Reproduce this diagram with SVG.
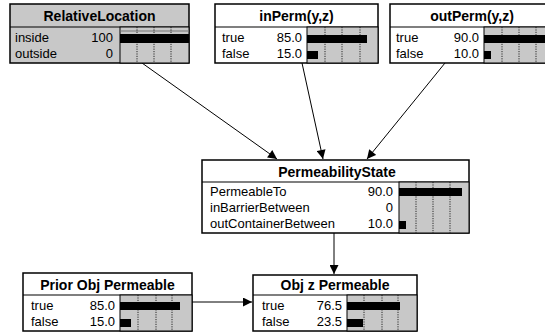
<svg xmlns="http://www.w3.org/2000/svg" width="545" height="333" viewBox="0 0 545 333">
<defs>
<marker id="ah" viewBox="0 0 10 10" refX="10" refY="5" markerWidth="11" markerHeight="9" markerUnits="userSpaceOnUse" orient="auto">
<path d="M0,0 L10,5 L0,10 z" fill="#000"/>
</marker>
</defs>
<style>
.box{fill:#fff;stroke:#000;stroke-width:1.5}
.ev{fill:#c8c8c8;stroke:#000;stroke-width:1.5}
.sep{stroke:#000;stroke-width:1.2}
.area{fill:#c8c8c8;stroke:#000;stroke-width:1}
.grid{stroke:#000;stroke-width:0.8;stroke-dasharray:1.2,1.2}
.bar{fill:#000}
.t{font-family:"Liberation Sans",Arial,sans-serif;font-size:14px;font-weight:bold;text-anchor:middle}
.r{font-family:"Liberation Sans",Arial,sans-serif;font-size:13px}
.v{font-family:"Liberation Sans",Arial,sans-serif;font-size:13px;text-anchor:end}
.edge{stroke:#000;stroke-width:1;fill:none}
</style>

<g id="connectors">
<line class="edge" x1="142" y1="63" x2="277" y2="159" marker-end="url(#ah)"/>
<line class="edge" x1="302" y1="63" x2="323" y2="159" marker-end="url(#ah)"/>
<line class="edge" x1="445" y1="63" x2="367" y2="159" marker-end="url(#ah)"/>
<line class="edge" x1="334" y1="233" x2="334" y2="274" marker-end="url(#ah)"/>
<line class="edge" x1="192" y1="302" x2="252" y2="302" marker-end="url(#ah)"/>
</g>

<g id="RelativeLocation">
<rect class="ev" x="10" y="4" width="179" height="59"/>
<line class="sep" x1="10" y1="27" x2="189" y2="27"/>
<rect class="area" x="120" y="27" width="69" height="36"/>
<line x1="120" y1="31" x2="189" y2="31" stroke="#777" stroke-width="1"/>
<line class="grid" x1="137" y1="27" x2="137" y2="63"/>
<line class="grid" x1="154" y1="27" x2="154" y2="63"/>
<line class="grid" x1="171" y1="27" x2="171" y2="63"/>
<rect class="bar" x="120" y="34" width="69" height="9"/>
<text class="t" x="99.5" y="21">RelativeLocation</text>
<text class="r" x="15" y="42">inside</text>
<text class="v" x="113" y="42">100</text>
<text class="r" x="15" y="58">outside</text>
<text class="v" x="113" y="58">0</text>
</g>

<g id="inPerm">
<rect class="box" x="215" y="4" width="163" height="59"/>
<line class="sep" x1="215" y1="27" x2="378" y2="27"/>
<rect class="area" x="307" y="27" width="71" height="36"/>
<line class="grid" x1="325" y1="27" x2="325" y2="63"/>
<line class="grid" x1="342" y1="27" x2="342" y2="63"/>
<line class="grid" x1="360" y1="27" x2="360" y2="63"/>
<rect class="bar" x="307" y="35" width="60" height="8"/>
<rect class="bar" x="307" y="51" width="11" height="8"/>
<text class="t" x="296.5" y="21">inPerm(y,z)</text>
<text class="r" x="222" y="42">true</text>
<text class="v" x="302" y="42">85.0</text>
<text class="r" x="222" y="58">false</text>
<text class="v" x="302" y="58">15.0</text>
</g>

<g id="outPerm">
<rect class="box" x="390" y="4" width="163" height="59"/>
<line class="sep" x1="390" y1="27" x2="553" y2="27"/>
<rect class="area" x="484" y="27" width="69" height="36"/>
<line class="grid" x1="502" y1="27" x2="502" y2="63"/>
<line class="grid" x1="519" y1="27" x2="519" y2="63"/>
<line class="grid" x1="536" y1="27" x2="536" y2="63"/>
<rect class="bar" x="484" y="35" width="62" height="8"/>
<rect class="bar" x="484" y="51" width="7" height="8"/>
<text class="t" x="472" y="21">outPerm(y,z)</text>
<text class="r" x="396" y="42">true</text>
<text class="v" x="479" y="42">90.0</text>
<text class="r" x="396" y="58">false</text>
<text class="v" x="479" y="58">10.0</text>
</g>

<g id="PermeabilityState">
<rect class="box" x="202" y="160" width="267" height="73"/>
<line class="sep" x1="202" y1="182" x2="469" y2="182"/>
<rect class="area" x="399" y="182" width="70" height="51"/>
<line class="grid" x1="416" y1="182" x2="416" y2="233"/>
<line class="grid" x1="433" y1="182" x2="433" y2="233"/>
<line class="grid" x1="450" y1="182" x2="450" y2="233"/>
<rect class="bar" x="399" y="188" width="63" height="8"/>
<rect class="bar" x="399" y="221" width="7" height="8"/>
<text class="t" x="337" y="177">PermeabilityState</text>
<text class="r" x="210" y="196">PermeableTo</text>
<text class="v" x="393" y="196">90.0</text>
<text class="r" x="210" y="212">inBarrierBetween</text>
<text class="v" x="393" y="212">0</text>
<text class="r" x="210" y="228">outContainerBetween</text>
<text class="v" x="393" y="228">10.0</text>
</g>

<g id="PriorObjPermeable">
<rect class="box" x="23" y="273" width="169" height="58"/>
<line class="sep" x1="23" y1="295" x2="192" y2="295"/>
<rect class="area" x="120" y="295" width="72" height="36"/>
<line class="grid" x1="138" y1="295" x2="138" y2="331"/>
<line class="grid" x1="156" y1="295" x2="156" y2="331"/>
<line class="grid" x1="172" y1="295" x2="172" y2="331"/>
<rect class="bar" x="120" y="302" width="60" height="8"/>
<rect class="bar" x="120" y="319" width="11" height="8"/>
<text class="t" x="107.5" y="290">Prior Obj Permeable</text>
<text class="r" x="31" y="310">true</text>
<text class="v" x="115" y="310">85.0</text>
<text class="r" x="31" y="326">false</text>
<text class="v" x="115" y="326">15.0</text>
</g>

<g id="ObjZPermeable">
<rect class="box" x="253" y="275" width="164" height="56"/>
<line class="sep" x1="253" y1="295" x2="417" y2="295"/>
<rect class="area" x="347" y="295" width="70" height="36"/>
<line class="grid" x1="364" y1="295" x2="364" y2="331"/>
<line class="grid" x1="382" y1="295" x2="382" y2="331"/>
<line class="grid" x1="398" y1="295" x2="398" y2="331"/>
<rect class="bar" x="347" y="302" width="53" height="8"/>
<rect class="bar" x="347" y="319" width="16" height="8"/>
<text class="t" x="335" y="290">Obj z Permeable</text>
<text class="r" x="262" y="310">true</text>
<text class="v" x="342" y="310">76.5</text>
<text class="r" x="262" y="326">false</text>
<text class="v" x="342" y="326">23.5</text>
</g>
</svg>
